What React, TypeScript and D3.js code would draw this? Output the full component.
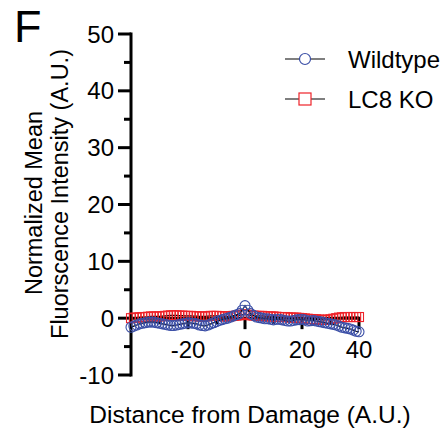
import React from "react";
import * as d3 from "d3";

const distances: number[] = d3.range(-40, 41);

const wildtype: number[] = [
  -1.6, -1.4, -1.2, -1.0, -0.9, -0.8, -0.7, -0.7, -0.7, -0.8,
  -0.9, -1.0, -1.1, -1.2, -1.3, -1.3, -1.2, -1.1, -1.0, -0.9,
  -0.8, -0.85, -0.9, -1.0, -1.2, -1.3, -1.35, -1.2, -1.0, -0.8,
  -0.6, -0.4, -0.25, -0.1, 0.0, 0.2, 0.4, 0.6, 0.8, 1.4,
  2.2, 1.4, 0.8, 0.5, 0.2, 0.1, 0.0, -0.1, -0.1, -0.2,
  -0.3, -0.2, -0.2, -0.3, -0.4, -0.5, -0.5, -0.4, -0.3, -0.25,
  -0.2, -0.3, -0.5, -0.45, -0.4, -0.5, -0.6, -0.7, -0.8, -0.9,
  -1.0, -1.1, -1.2, -1.4, -1.6, -1.7, -1.8, -1.9, -2.1, -2.3,
  -2.4,
];

const lc8ko: number[] = [
  0.0, 0.1, 0.1, 0.15, 0.2, 0.2, 0.25, 0.3, 0.3, 0.3,
  0.3, 0.35, 0.4, 0.45, 0.5, 0.5, 0.5, 0.45, 0.45, 0.4,
  0.4, 0.4, 0.35, 0.35, 0.3, 0.3, 0.3, 0.35, 0.4, 0.4,
  0.4, 0.35, 0.35, 0.3, 0.3, 0.35, 0.4, 0.45, 0.5, 0.6,
  0.7, 0.6, 0.5, 0.45, 0.4, 0.4, 0.4, 0.35, 0.3, 0.3,
  0.3, 0.25, 0.2, 0.2, 0.2, 0.15, 0.1, 0.1, 0.1, 0.05,
  0.0, -0.05, -0.1, -0.15, -0.2, -0.2, -0.25, -0.3, -0.3, -0.25,
  -0.2, -0.1, 0.0, 0.1, 0.15, 0.2, 0.2, 0.2, 0.2, 0.2,
  0.2,
];

const yTicks: number[] = [-10, 0, 10, 20, 30, 40, 50];
const yMinorTicks: number[] = [-5, 5, 15, 25, 35, 45];
const xTicks: number[] = [-20, 0, 20, 40];
const xMinorTicks: number[] = [-30, -10, 10, 30];

const seriesNames = ["Wildtype", "LC8 KO"];

const FONT = "'Liberation Sans', Arial, Helvetica, sans-serif";
const BLUE = "#3a4ea6";
const RED = "#ee2229";

export default function App() {
  const W = 443;
  const H = 431;
  const x = d3.scaleLinear().domain([-40, 40]).range([131, 359]);
  const y = d3.scaleLinear().domain([-10, 50]).range([375, 34]);

  const line = d3
    .line<number>()
    .x((_, i) => x(distances[i]))
    .y((d) => y(d));

  return (
    <svg
      width={W}
      height={H}
      style={{ position: "absolute", left: 0, top: 0, background: "#fff" }}
      fontFamily={FONT}
    >
      {/* Panel letter */}
      <text x={14} y={42} fontSize={45} fill="#000">F</text>

      {/* Y axis label */}
      <text
        transform="translate(42, 203) rotate(-90)"
        textAnchor="middle"
        fontSize={23.5}
        fill="#000"
      >
        Normalized Mean
      </text>
      <text
        transform="translate(68, 194) rotate(-90)"
        textAnchor="middle"
        fontSize={23.5}
        fill="#000"
      >
        Fluorscence Intensity (A.U.)
      </text>

      {/* Y axis */}
      <line x1={131} x2={131} y1={y(50) - 1.5} y2={y(-10) + 1.5} stroke="#000" strokeWidth={3} />
      {yTicks.map((t) => (
        <g key={"yt" + t}>
          <line x1={118} x2={131} y1={y(t)} y2={y(t)} stroke="#000" strokeWidth={3} />
          <text x={114} y={y(t)} dy="0.36em" textAnchor="end" fontSize={24} fill="#000">
            {t}
          </text>
        </g>
      ))}
      {yMinorTicks.map((t) => (
        <line key={"ym" + t} x1={124} x2={131} y1={y(t)} y2={y(t)} stroke="#000" strokeWidth={3} />
      ))}

      {/* X axis at y=0 */}
      <line x1={131} x2={x(40) + 1.5} y1={y(0)} y2={y(0)} stroke="#000" strokeWidth={3} />
      {xTicks.map((t) => (
        <g key={"xt" + t}>
          <line x1={x(t)} x2={x(t)} y1={y(0)} y2={y(0) + 11} stroke="#000" strokeWidth={3} />
          <text x={x(t)} y={y(0) + 40} textAnchor="middle" fontSize={24} fill="#000">
            {t}
          </text>
        </g>
      ))}
      {xMinorTicks.map((t) => (
        <line key={"xm" + t} x1={x(t)} x2={x(t)} y1={y(0)} y2={y(0) + 6} stroke="#000" strokeWidth={3} />
      ))}

      {/* LC8 KO series */}
      <path d={line(lc8ko) || ""} fill="none" stroke="#000" strokeWidth={1.2} />
      {lc8ko.map((v, i) => (
        <rect
          key={"r" + i}
          x={x(distances[i]) - 4.5}
          y={y(v) - 4.5}
          width={9}
          height={9}
          fill="none"
          stroke={RED}
          strokeWidth={1.1}
        />
      ))}

      {/* Wildtype series */}
      <path d={line(wildtype) || ""} fill="none" stroke="#000" strokeWidth={1.2} />
      {wildtype.map((v, i) => (
        <circle
          key={"c" + i}
          cx={x(distances[i])}
          cy={y(v)}
          r={5}
          fill="none"
          stroke={BLUE}
          strokeWidth={1.1}
        />
      ))}

      {/* X axis label */}
      <text x={250} y={423} textAnchor="middle" fontSize={24.5} fill="#000">
        Distance from Damage (A.U.)
      </text>

      {/* Legend */}
      <g>
        <line x1={285} x2={325} y1={59} y2={59} stroke="#000" strokeWidth={1.2} />
        <circle cx={305} cy={59} r={5.5} fill="#fff" stroke={BLUE} strokeWidth={1.2} />
        <text x={348} y={59} dy="0.36em" fontSize={24} fill="#000">{seriesNames[0]}</text>
        <line x1={285} x2={325} y1={99} y2={99} stroke="#000" strokeWidth={1.2} />
        <rect x={299} y={93} width={12} height={12} fill="#fff" stroke={RED} strokeWidth={1.2} />
        <text x={348} y={99} dy="0.36em" fontSize={24} fill="#000">{seriesNames[1]}</text>
      </g>
    </svg>
  );
}
